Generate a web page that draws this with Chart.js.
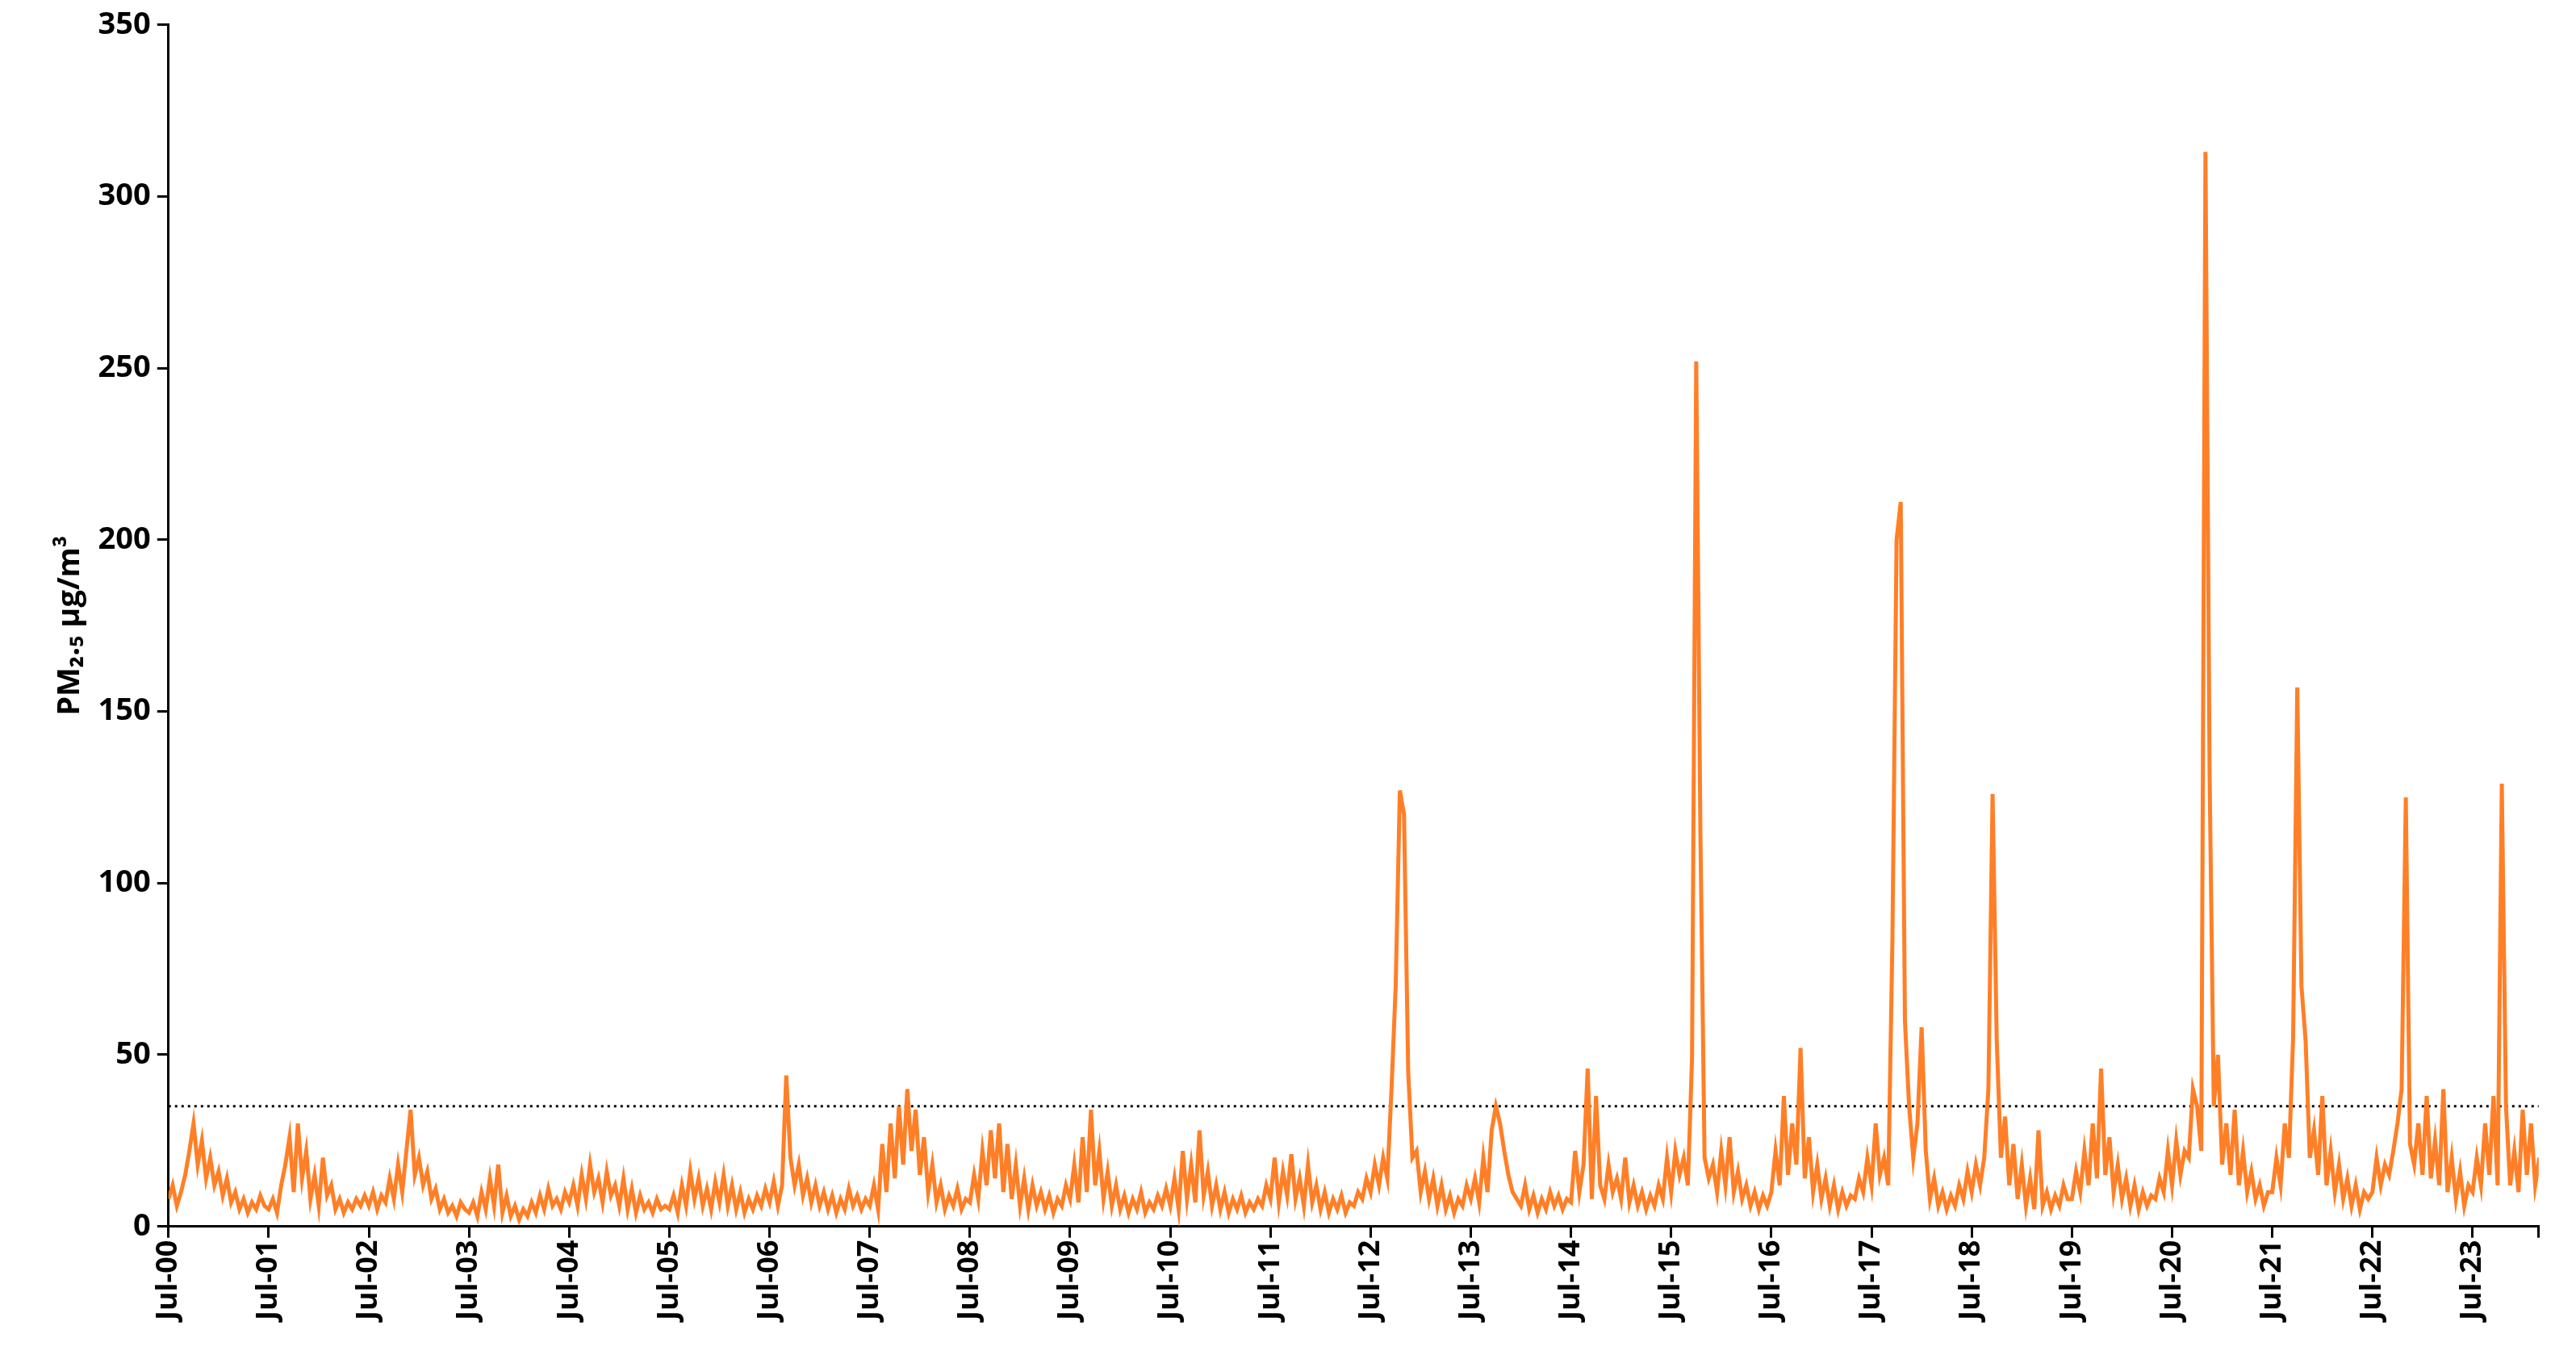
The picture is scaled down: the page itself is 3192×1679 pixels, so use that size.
<!DOCTYPE html>
<html>
<head>
<meta charset="utf-8">
<script src="https://cdn.jsdelivr.net/npm/chart.js@4"></script>
<style>
  html, body { margin: 0; padding: 0; background: #fff; overflow: hidden; }
  #wrap { position: relative; width: 3192px; height: 1679px; }
</style>
</head>
<body>
<div id="wrap"><canvas id="pmChart"></canvas></div>
<script>
// Tick labels, one per July
const yearLabels = ['Jul-00','Jul-01','Jul-02','Jul-03','Jul-04','Jul-05','Jul-06','Jul-07',
  'Jul-08','Jul-09','Jul-10','Jul-11','Jul-12','Jul-13','Jul-14','Jul-15','Jul-16','Jul-17',
  'Jul-18','Jul-19','Jul-20','Jul-21','Jul-22','Jul-23'];

// PM2.5 readings, two per month starting Jul 2000
const pm25 = [
  8,12,6,10,15,22,30,18,25,14,20,12,16,9,14,7,10,5,8,4,7,5,9,6,
  5,8,4,12,18,26,10,30,14,22,8,15,6,20,9,12,5,8,4,7,5,8,6,9,
  6,10,5,9,7,14,8,18,10,22,34,15,20,12,16,8,11,5,8,4,6,3,7,5,
  4,7,3,10,5,14,6,18,4,9,3,6,2,5,3,7,4,9,5,11,6,8,5,10,
  7,12,6,15,8,18,10,14,7,16,9,12,6,14,5,11,4,9,5,7,4,8,5,6,
  5,9,4,12,6,16,8,14,6,11,5,13,7,15,6,12,5,10,4,8,5,9,6,11,
  7,13,6,12,44,20,12,18,9,14,7,12,6,10,5,9,4,8,5,11,6,9,5,8,
  6,12,5,24,10,30,14,35,18,40,22,34,15,26,10,18,7,12,5,9,6,11,5,8,
  7,15,8,22,12,28,14,30,10,24,8,18,6,14,5,12,6,10,5,9,4,8,6,12,
  8,18,7,26,10,34,12,22,8,16,6,12,5,9,4,8,5,10,4,7,5,9,6,11,
  6,14,5,22,8,18,7,28,9,16,6,12,5,10,4,8,5,9,4,7,5,8,6,12,
  8,20,7,16,9,21,8,14,6,18,7,12,5,10,4,8,5,9,4,7,6,10,8,14,
  10,18,12,20,14,40,70,127,120,45,20,22,10,16,8,14,6,12,5,9,4,8,6,12,
  8,14,7,20,10,28,35,30,22,15,10,8,6,12,5,9,4,8,5,10,6,9,5,8,
  7,22,10,18,46,8,38,12,8,18,10,14,8,20,7,12,6,10,5,9,6,12,8,20,
  10,22,15,20,12,49,252,115,20,14,18,10,22,12,26,10,16,8,12,6,10,5,9,6,
  10,22,12,38,15,30,18,52,14,26,10,18,8,14,6,12,5,10,6,9,8,14,10,20,
  12,30,15,20,12,83,200,211,60,35,20,30,58,22,8,14,6,10,5,9,6,12,8,16,
  10,18,12,20,40,126,54,20,32,12,24,8,18,6,14,5,28,6,10,5,9,6,12,8,
  8,16,10,22,12,30,14,46,15,26,10,18,8,14,6,12,5,10,6,9,8,14,10,22,
  12,25,15,22,20,40,35,22,313,131,35,50,18,30,15,34,12,22,10,16,8,12,6,10,
  10,20,12,30,20,55,157,70,54,20,28,15,38,12,22,10,18,8,14,6,12,5,10,8,
  10,20,12,18,15,22,30,40,125,24,18,30,15,38,14,25,12,40,10,20,8,16,6,12,
  10,20,12,30,15,38,12,129,35,12,22,10,34,15,30,12,20
];
const standard = 35;
const xMax = 23.66;

const series = pm25.map((v, i) => ({ x: i / 24, y: v }));

const ctx = document.getElementById('pmChart').getContext('2d');
new Chart(ctx, {
  type: 'line',
  data: {
    datasets: [{
      data: series,
      borderColor: '#FF7F27',
      borderWidth: 5,
      pointRadius: 0,
      tension: 0
    }, {
      data: [{ x: 0, y: standard }, { x: xMax, y: standard }],
      borderColor: '#000',
      borderWidth: 3,
      borderDash: [3, 5],
      pointRadius: 0
    }]
  },
  options: {
    responsive: true,
    maintainAspectRatio: false,
    animation: false,
    devicePixelRatio: 1,
    layout: { padding: { top: 30, right: 32, left: 60, bottom: 40 } },
    plugins: { legend: { display: false }, tooltip: { enabled: false } },
    scales: {
      x: {
        type: 'linear',
        min: 0,
        max: xMax,
        border: { color: '#000', width: 3 },
        grid: { display: true, drawOnChartArea: false, color: '#000', lineWidth: 3, tickLength: 14 },
        ticks: {
          stepSize: 1,
          autoSkip: false,
          maxRotation: 90,
          minRotation: 90,
          color: '#000',
          font: { family: 'Open Sans', weight: 'bold', size: 36 },
          callback: v => yearLabels[v] ?? ''
        }
      },
      y: {
        min: 0,
        max: 350,
        border: { color: '#000', width: 3 },
        grid: { display: true, drawOnChartArea: false, color: '#000', lineWidth: 3, tickLength: 14 },
        ticks: {
          stepSize: 50,
          color: '#000',
          padding: 8,
          font: { family: 'Open Sans', weight: 'bold', size: 38 }
        },
        title: {
          display: true,
          text: 'PM₂.₅ µg/m³',
          color: '#000',
          font: { family: 'Open Sans', weight: 'bold', size: 38 }
        }
      }
    }
  }
});
</script>
</body>
</html>
